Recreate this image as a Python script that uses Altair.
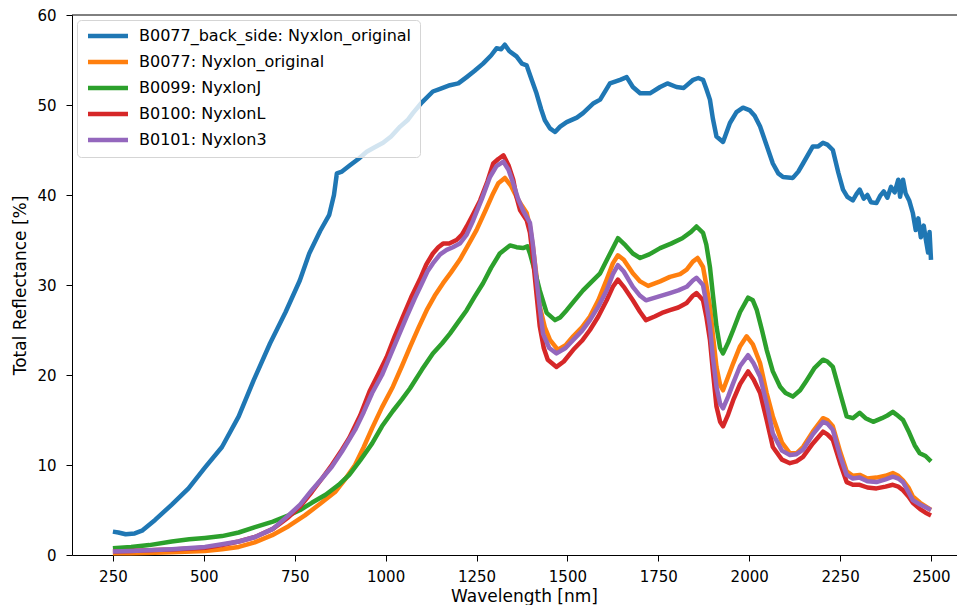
import altair as alt
import pandas as pd

# ---- data ----
names = [
    "B0077_back_side: Nyxlon_original",
    "B0077: Nyxlon_original",
    "B0099: NyxlonJ",
    "B0100: NyxlonL",
    "B0101: Nyxlon3",
]
colors = ["#1f77b4", "#ff7f0e", "#2ca02c", "#d62728", "#9467bd"]

blue_wl = [250, 265, 285, 310, 330, 366, 412, 458, 503, 550, 596, 637, 682, 725, 764, 790, 820, 845, 858, 866,
           880, 902, 925, 948, 970, 993, 1015, 1040, 1060, 1075, 1100, 1130, 1150, 1177, 1200, 1223, 1245, 1268,
           1290, 1305, 1318, 1328, 1340, 1360, 1375, 1388, 1400, 1415, 1428, 1438, 1452, 1466, 1480, 1498, 1526,
           1543, 1572, 1590, 1617, 1645, 1663, 1680, 1700, 1727, 1755, 1775, 1800, 1820, 1846, 1860, 1873, 1882,
           1892, 1900, 1910, 1928, 1947, 1965, 1983, 2002, 2015, 2030, 2048, 2065, 2080, 2093, 2120, 2135, 2148,
           2175, 2190, 2203, 2215, 2230, 2245, 2258, 2270, 2285, 2295, 2304, 2315, 2325, 2335, 2350, 2360, 2370,
           2380, 2390, 2400, 2410, 2415, 2423, 2430, 2440, 2450, 2458, 2465, 2472, 2480, 2486, 2492, 2496, 2500]
blue_val = [2.6, 2.5, 2.3, 2.4, 2.7, 3.9, 5.6, 7.4, 9.7, 12.0, 15.4, 19.4, 23.5, 27.0, 30.5, 33.5, 36.0, 37.8, 40.0, 42.4,
            42.6, 43.3, 44.0, 44.8, 45.3, 45.8, 46.5, 47.6, 48.3, 49.1, 50.3, 51.5, 51.8, 52.2, 52.4, 53.1, 53.8, 54.6,
            55.5, 56.3, 56.2, 56.7, 56.0, 55.4, 54.6, 54.4, 53.0, 51.3, 49.5, 48.3, 47.4, 47.0, 47.6, 48.1, 48.6,
            49.1, 50.2, 50.6, 52.4, 52.8, 53.1, 52.0, 51.3, 51.3, 52.0, 52.4, 52.0, 51.9, 52.8, 53.0, 52.8, 51.8,
            50.6, 48.5, 46.5, 45.9, 48.0, 49.2, 49.7, 49.4, 48.8, 47.6, 45.5, 43.5, 42.4, 42.0, 41.9, 42.6, 43.5,
            45.4, 45.4, 45.8, 45.6, 45.0, 42.5, 40.6, 39.8, 39.4, 40.1, 40.6, 39.6, 40.0, 39.2, 39.1, 39.9, 40.4,
            39.7, 40.9, 40.3, 41.7, 39.8, 41.7, 40.2, 39.4, 38.0, 36.1, 37.4, 35.3, 36.6, 35.0, 33.6, 35.9, 32.8]

orange_wl = [250, 300, 366, 412, 503, 550, 596, 640, 688, 733, 778, 820, 861, 890, 916, 940, 963, 990, 1020, 1045,
             1067, 1090, 1113, 1135, 1158, 1180, 1204, 1225, 1250, 1275, 1296, 1310, 1328, 1345, 1360, 1375, 1388,
             1397, 1405, 1415, 1424, 1438, 1452, 1474, 1495, 1516, 1540, 1562, 1585, 1608, 1625, 1639, 1655, 1680,
             1700, 1722, 1755, 1782, 1810, 1828, 1845, 1858, 1873, 1882, 1892, 1900, 1910, 1920, 1928, 1942, 1956,
             1975, 1993, 2010, 2030, 2048, 2065, 2090, 2112, 2130, 2148, 2175, 2203, 2215, 2230, 2250, 2268, 2285,
             2304, 2325, 2350, 2375, 2395, 2410, 2423, 2438, 2450, 2470, 2485, 2500]
orange_val = [0.2, 0.2, 0.25, 0.3, 0.45, 0.65, 0.9, 1.4, 2.2, 3.2, 4.4, 5.7, 7.0, 8.5, 10.0, 12.0, 14.1, 16.4, 18.7, 21.0,
              23.1, 25.2, 27.2, 28.8, 30.2, 31.4, 32.8, 34.3, 36.1, 38.3, 40.2, 41.3, 41.9, 41.0, 39.8, 38.8, 38.0,
              36.5, 34.3, 31.0, 27.6, 25.3, 23.9, 22.8, 23.3, 24.3, 25.3, 26.5, 28.3, 30.6, 32.4, 33.3, 32.8, 31.3,
              30.4, 29.9, 30.4, 30.9, 31.2, 31.7, 32.6, 33.0, 32.0, 30.0, 27.6, 24.5, 20.9, 18.9, 18.3, 19.8, 21.3,
              23.2, 24.3, 23.4, 21.3, 18.0, 15.4, 12.5, 11.3, 11.3, 12.0, 13.7, 15.2, 15.0, 14.3, 11.5, 9.3, 8.8,
              8.9, 8.5, 8.6, 8.8, 9.1, 8.8, 8.3, 7.5, 6.5, 5.8, 5.4, 5.0]

green_wl = [250, 300, 350, 412, 460, 503, 550, 596, 641, 690, 733, 765, 797, 835, 871, 900, 930, 963, 990, 1020,
            1045, 1067, 1100, 1130, 1155, 1177, 1200, 1223, 1245, 1268, 1290, 1314, 1342, 1360, 1378, 1390, 1397,
            1410, 1424, 1443, 1466, 1480, 1498, 1520, 1543, 1565, 1590, 1615, 1639, 1660, 1680, 1700, 1725, 1755,
            1785, 1816, 1840, 1855, 1873, 1882, 1892, 1900, 1910, 1920, 1928, 1942, 1956, 1975, 1997, 2010, 2021,
            2035, 2048, 2065, 2085, 2100, 2120, 2140, 2158, 2180, 2203, 2215, 2230, 2250, 2268, 2285, 2304, 2320,
            2341, 2365, 2380, 2395, 2405, 2423, 2440, 2455, 2469, 2485, 2500]
green_val = [0.75, 0.9, 1.1, 1.5, 1.75, 1.9, 2.1, 2.5, 3.1, 3.7, 4.4, 5.0, 5.8, 6.7, 7.8, 8.9, 10.5, 12.4, 14.3, 16.0,
             17.3, 18.5, 20.6, 22.4, 23.5, 24.6, 25.9, 27.2, 28.7, 30.2, 31.9, 33.5, 34.4, 34.2, 34.1, 34.3, 33.5,
             31.6, 29.4, 26.9, 26.1, 26.4, 27.2, 28.3, 29.4, 30.3, 31.3, 33.3, 35.2, 34.4, 33.5, 33.0, 33.4, 34.1,
             34.6, 35.2, 35.9, 36.5, 35.8, 34.5, 32.0, 29.0, 25.4, 23.0, 22.4, 23.6, 25.0, 27.0, 28.6, 28.3, 27.2,
             25.0, 22.8, 20.4, 18.7, 18.0, 17.6, 18.3, 19.4, 20.8, 21.7, 21.5, 20.9, 18.0, 15.4, 15.2, 15.8, 15.2,
             14.8, 15.2, 15.5, 15.9, 15.6, 15.0, 13.6, 12.2, 11.3, 11.0, 10.4]

red_wl = [250, 300, 366, 412, 503, 550, 596, 641, 690, 733, 765, 797, 825, 852, 880, 900, 930, 956, 980, 1003,
          1025, 1048, 1070, 1094, 1112, 1130, 1145, 1158, 1175, 1195, 1210, 1223, 1240, 1260, 1280, 1296, 1310,
          1324, 1338, 1351, 1360, 1370, 1388, 1397, 1405, 1415, 1424, 1435, 1446, 1470, 1490, 1516, 1540, 1562,
          1585, 1608, 1625, 1639, 1655, 1680, 1700, 1716, 1740, 1760, 1782, 1805, 1828, 1845, 1855, 1873, 1882,
          1892, 1900, 1910, 1920, 1928, 1942, 1956, 1975, 1997, 2012, 2030, 2048, 2065, 2090, 2112, 2130, 2148,
          2175, 2203, 2215, 2230, 2250, 2268, 2285, 2304, 2325, 2350, 2375, 2395, 2410, 2423, 2438, 2450, 2470,
          2485, 2500]
red_val = [0.4, 0.45, 0.55, 0.6, 0.8, 1.1, 1.5, 2.0, 2.9, 4.2, 5.4, 7.0, 8.5, 10.0, 11.7, 13.0, 15.5, 18.2, 20.1, 22.0,
           24.3, 26.5, 28.6, 30.6, 32.3, 33.5, 34.2, 34.6, 34.6, 35.0, 35.6, 36.5, 37.8, 39.4, 41.5, 43.5, 44.0,
           44.4, 43.3, 41.7, 39.8, 38.3, 37.2, 35.8, 33.1, 29.0, 25.4, 23.0, 21.7, 20.9, 21.5, 22.8, 23.8, 25.0,
           26.5, 28.3, 29.8, 30.6, 29.8, 28.3, 27.0, 26.1, 26.5, 26.9, 27.2, 27.5, 28.0, 28.8, 29.1, 28.3, 26.5,
           23.9, 20.5, 16.5, 14.8, 14.3, 15.6, 17.2, 19.0, 20.4, 19.5, 18.0, 15.0, 12.0, 10.6, 10.2, 10.4, 10.9,
           12.4, 13.7, 13.4, 12.8, 10.2, 8.1, 7.8, 7.8, 7.5, 7.4, 7.6, 7.8, 7.6, 7.2, 6.5, 5.8, 5.1,
           4.7, 4.4]

purple_wl = [250, 300, 366, 412, 503, 550, 596, 641, 690, 733, 765, 797, 825, 852, 880, 916, 940, 963, 990, 1010,
             1035, 1058, 1080, 1100, 1115, 1130, 1150, 1168, 1185, 1204, 1223, 1241, 1265, 1287, 1305, 1324, 1338,
             1351, 1365, 1378, 1397, 1405, 1415, 1424, 1433, 1450, 1470, 1495, 1516, 1540, 1562, 1585, 1608, 1625,
             1639, 1655, 1680, 1700, 1716, 1750, 1782, 1805, 1828, 1845, 1855, 1873, 1882, 1892, 1900, 1910, 1920,
             1928, 1942, 1956, 1975, 1997, 2012, 2030, 2048, 2065, 2090, 2112, 2130, 2148, 2175, 2203, 2215, 2230,
             2250, 2268, 2285, 2304, 2325, 2350, 2375, 2395, 2410, 2423, 2438, 2450, 2470, 2485, 2500]
purple_val = [0.4, 0.45, 0.55, 0.65, 0.9, 1.2, 1.5, 2.0, 2.9, 4.4, 5.6, 7.2, 8.5, 9.8, 11.5, 13.9, 15.9, 18.0, 20.0, 21.9,
              24.3, 26.5, 28.5, 30.2, 31.5, 32.4, 33.4, 33.9, 34.2, 34.6, 35.6, 37.2, 39.6, 42.0, 43.2, 43.7, 42.8,
              41.3, 39.5, 38.3, 36.9, 34.5, 30.6, 27.5, 24.6, 23.0, 22.4, 23.0, 23.9, 24.9, 26.1, 27.6, 29.4, 31.2,
              32.2, 31.5, 29.8, 28.8, 28.3, 28.7, 29.1, 29.4, 29.8, 30.5, 30.8, 30.0, 28.0, 25.4, 22.0, 18.7, 16.8,
              16.3, 17.6, 19.1, 21.0, 22.2, 21.3, 19.8, 16.8, 13.5, 11.6, 11.1, 11.2, 11.7, 13.4, 14.8, 14.6, 13.9,
              11.0, 8.9, 8.5, 8.6, 8.2, 8.1, 8.4, 8.7, 8.5, 8.1, 7.0, 6.1, 5.6, 5.3, 5.0]

x_ticks = [250, 500, 750, 1000, 1250, 1500, 1750, 2000, 2250, 2500]
y_ticks = [0, 10, 20, 30, 40, 50, 60]

series = [(blue_wl, blue_val), (orange_wl, orange_val), (green_wl, green_val),
          (red_wl, red_val), (purple_wl, purple_val)]
rows = []
for idx, (name, (wl, val)) in enumerate(zip(names, series)):
    for i, (w, v) in enumerate(zip(wl, val)):
        rows.append({"series": name, "wl": w, "val": v, "k": idx, "i": i})
df = pd.DataFrame(rows)

W, H = 885, 540
FONT = "DejaVu Sans"

lines = alt.Chart(df).mark_line(strokeWidth=4.5, strokeJoin="round", strokeCap="butt").encode(
    x=alt.X("wl:Q", scale=alt.Scale(domain=[137.5, 2571.5], nice=False, zero=False),
            axis=alt.Axis(values=x_ticks, title="Wavelength [nm]", format="d",
                          labelPadding=8, titleX=452, titleY=46, titleBaseline="alphabetic",
                          titleAlign="center")),
    y=alt.Y("val:Q", scale=alt.Scale(domain=[0, 60], nice=False),
            axis=alt.Axis(values=y_ticks, title="Total Reflectance [%]", labelPadding=10,
                          titleX=-52, titleY=270, titleBaseline="middle", titleAlign="center",
                          titleAngle=270)),
    color=alt.Color("series:N", scale=alt.Scale(domain=names, range=colors),
                    legend=alt.Legend(orient="none", legendX=5, legendY=5, title=None,
                                      symbolType="M-4,0H4", symbolSize=100, symbolStrokeWidth=4.5,
                                      symbolOffset=15, symbolFillColor="transparent",
                                      labelFontSize=16, labelFont=FONT, labelColor="#000",
                                      fillColor="rgba(255,255,255,0.8)", strokeColor="#d5d5d5",
                                      cornerRadius=4, padding=8, rowPadding=8, labelOffset=23,
                                      labelLimit=400)),
    order=alt.Order("i:Q"),
    detail="k:N",
)

top = alt.Chart(pd.DataFrame({"a": [0]})).mark_rule(color="black", strokeWidth=1).encode(
    x=alt.value(0), x2=alt.value(W), y=alt.value(0))

chart = alt.layer(top, lines).properties(
    width=W, height=H,
    autosize=alt.AutoSizeParams(type="none"),
    padding={"left": 64, "top": 7, "right": 0, "bottom": 50},
).configure_view(stroke=None).configure_axis(
    domainColor="black", tickColor="black", domainWidth=1, tickWidth=1, tickSize=6,
    labelFont=FONT, titleFont=FONT, labelFontSize=15, titleFontSize=17,
    labelColor="black", titleColor="black", titleFontWeight="normal", grid=False,
)

chart.save("out.html", embed_options={"renderer": "svg", "actions": False})
